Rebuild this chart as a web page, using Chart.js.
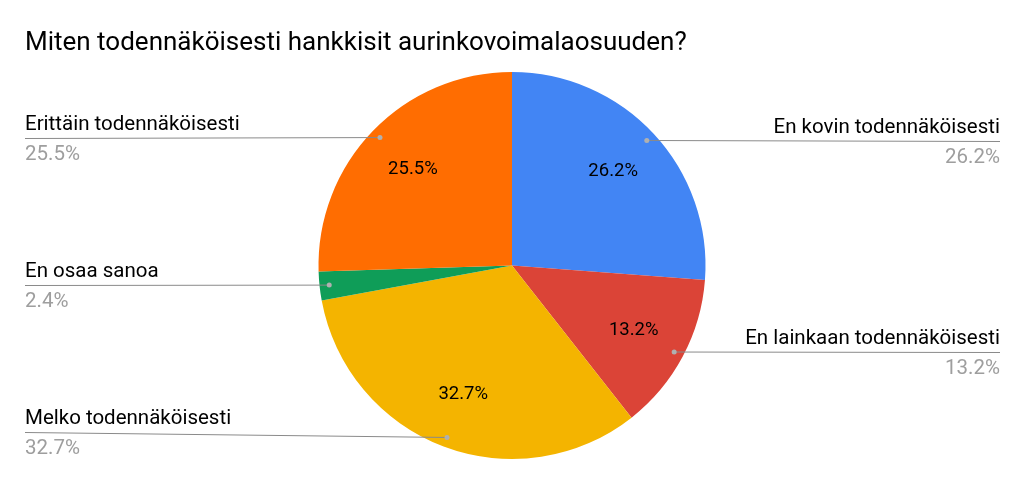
<!DOCTYPE html>
<html>
<head>
<meta charset="utf-8">
<script src="https://cdn.jsdelivr.net/npm/chart.js@4"></script>
<style>
  html, body { margin: 0; padding: 0; background: #ffffff; }
  #wrap { width: 1024px; height: 484px; position: relative; }
</style>
</head>
<body>
<div id="wrap"><canvas id="c" width="1024" height="484"></canvas></div>
<script>
const title = "Miten todennäköisesti hankkisit aurinkovoimalaosuuden?";
const categories = [
  "En kovin todennäköisesti",
  "En lainkaan todennäköisesti",
  "Melko todennäköisesti",
  "En osaa sanoa",
  "Erittäin todennäköisesti"
];
const values = [26.2, 13.2, 32.7, 2.4, 25.5];
const colors = ["#4285F4", "#DB4437", "#F4B400", "#0F9D58", "#FF6D01"];

const FONT = "Roboto, 'Noto Sans', Arial, sans-serif";

function pct(v, total) { return (v / total * 100).toFixed(1) + "%"; }

const labelPlugin = {
  id: 'pieLabels',
  afterDraw(chart) {
    const ctx = chart.ctx;
    const meta = chart.getDatasetMeta(0);
    const data = chart.data.datasets[0].data;
    const total = data.reduce((a, b) => a + b, 0);
    const W = chart.width, H = chart.height;
    ctx.save();
    // title
    ctx.fillStyle = "#000000";
    ctx.font = "26px " + FONT;
    ctx.textAlign = "left";
    ctx.textBaseline = "alphabetic";
    ctx.fillText(title, 25, 50);

    meta.data.forEach((arc, i) => {
      const p = arc.getProps(['x', 'y', 'startAngle', 'endAngle', 'outerRadius'], true);
      const mid = (p.startAngle + p.endAngle) / 2;
      const txt = pct(data[i], total);
      // inside label
      if (data[i] / total > 0.05) {
        const ri = p.outerRadius * 0.713;
        ctx.fillStyle = "#000000";
        ctx.font = "18.5px " + FONT;
        ctx.textAlign = "center";
        ctx.textBaseline = "middle";
        ctx.fillText(txt, p.x + Math.cos(mid) * ri, p.y + Math.sin(mid) * ri);
      }
      // leader
      const rd = p.outerRadius * 0.95;
      const dx = p.x + Math.cos(mid) * rd;
      const dy = p.y + Math.sin(mid) * rd;
      const right = Math.cos(mid) > 0;
      const ly = Math.min(dy, H - 52);
      const lx = right ? W - 24 : 25;
      ctx.strokeStyle = "#8a8a8a";
      ctx.lineWidth = 1;
      ctx.beginPath();
      ctx.moveTo(lx, Math.round(ly) + 0.5);
      ctx.lineTo(dx, dy);
      ctx.stroke();
      ctx.fillStyle = "#b0b0b0";
      ctx.beginPath();
      ctx.arc(dx, dy, 2.5, 0, Math.PI * 2);
      ctx.fill();
      // outside labels
      ctx.textAlign = right ? "right" : "left";
      ctx.textBaseline = "alphabetic";
      ctx.font = "20.5px " + FONT;
      ctx.fillStyle = "#000000";
      ctx.fillText(chart.data.labels[i], lx, ly - 8);
      ctx.fillStyle = "#9e9e9e";
      ctx.fillText(txt, lx, ly + 22);
    });
    ctx.restore();
  }
};

function draw() {
  new Chart(document.getElementById('c'), {
    type: 'pie',
    data: {
      labels: categories,
      datasets: [{
        data: values,
        backgroundColor: colors,
        borderWidth: 0
      }]
    },
    options: {
      responsive: false,
      animation: false,
      layout: { padding: { left: 318.5, right: 318.5, top: 72, bottom: 25 } },
      plugins: {
        legend: { display: false },
        tooltip: { enabled: false },
        title: { display: false }
      }
    },
    plugins: [labelPlugin]
  });
}
if (document.fonts && document.fonts.load) {
  Promise.all([document.fonts.load("24px Roboto"), document.fonts.load("16px Roboto")]).then(draw, draw);
} else { draw(); }
</script>
</body>
</html>
